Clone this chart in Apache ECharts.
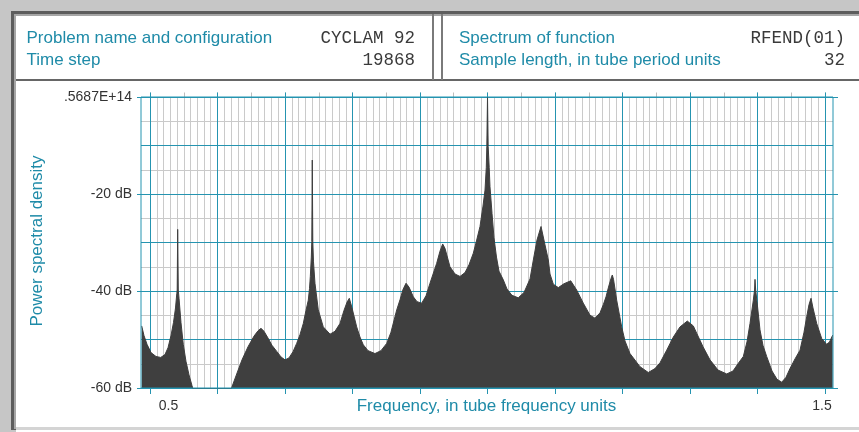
<!DOCTYPE html>
<html><head><meta charset="utf-8">
<script src="https://cdn.jsdelivr.net/npm/echarts@6/dist/echarts.min.js"></script>
<style>
html,body{margin:0;padding:0;background:#fff;}
#wrap{position:relative;width:859px;height:432px;background:#c6c6c6;overflow:hidden;}
.b{position:absolute;}
#chart{position:absolute;left:0;top:0;width:859px;height:432px;}
</style></head><body>
<div id="wrap">
<div class="b" style="left:11px;top:11px;right:0;bottom:2px;background:#5d5d5d"></div>
<div class="b" style="left:14px;top:14px;right:0;bottom:3px;background:#a6a6a6"></div>
<div class="b" style="left:16px;top:16px;right:0;height:411px;background:#fff"></div>
<div class="b" style="left:16px;top:427px;right:0;height:3px;background:#d4d4d4"></div>
<div class="b" style="left:16px;top:430px;right:0;height:2px;background:#fff"></div>
<div class="b" style="left:16px;top:79px;right:0;height:2px;background:#666"></div>
<div class="b" style="left:432px;top:14px;width:2px;height:66px;background:#7a7a7a"></div>
<div class="b" style="left:441px;top:14px;width:2px;height:66px;background:#7a7a7a"></div>
<div id="chart"></div>
</div>
<script>
// ---- Data ----
const headerLeftLabels = ['Problem name and configuration', 'Time step'];
const headerLeftValues = ['CYCLAM 92', '19868'];
const headerRightLabels = ['Spectrum of function', 'Sample length, in tube period units'];
const headerRightValues = ['RFEND(01)', '32'];
const xAxisTitle = 'Frequency, in tube frequency units';
const yAxisTitle = 'Power spectral density';
const xTickValues = [0.5, 1.5];
const xTickLabels = ['0.5', '1.5'];
const yTickValues = [-60, -40, -20, 0];
const yTickLabels = ['-60 dB', '-40 dB', '-20 dB', '.5687E+14'];

const frequency = [
0.4877,0.4911,0.4956,0.5015,0.5089,0.5159,0.5222,0.5267,0.5311,0.5348,
0.5378,0.5397,0.5403,0.5410,0.5419,0.5430,0.5459,0.5493,0.5533,0.5578,
0.5622,0.5652,0.5741,0.5919,0.6096,0.6200,0.6274,0.6363,0.6452,0.6541,
0.6600,0.6644,0.6689,0.6748,0.6807,0.6881,0.6941,0.7000,0.7059,0.7119,
0.7173,0.7222,0.7271,0.7311,0.7345,0.7363,0.7375,0.7390,0.7397,0.7404,
0.7412,0.7422,0.7444,0.7493,0.7567,0.7667,0.7741,0.7815,0.7874,0.7919,
0.7953,0.7993,0.8062,0.8111,0.8160,0.8230,0.8333,0.8422,0.8507,0.8570,
0.8655,0.8704,0.8748,0.8793,0.8837,0.8901,0.8956,0.9025,0.9089,0.9148,
0.9247,0.9296,0.9336,0.9370,0.9444,0.9519,0.9593,0.9667,0.9726,0.9790,
0.9840,0.9889,0.9933,0.9963,0.9982,0.9990,1.0000,1.0010,1.0025,1.0037,
1.0067,1.0096,1.0133,1.0170,1.0234,1.0289,1.0363,1.0456,1.0541,1.0630,
1.0679,1.0733,1.0793,1.0852,1.0901,1.0926,1.0975,1.1049,1.1133,1.1233,
1.1321,1.1419,1.1519,1.1593,1.1667,1.1716,1.1756,1.1793,1.1830,1.1849,
1.1867,1.1914,1.1988,1.2037,1.2111,1.2259,1.2382,1.2481,1.2556,1.2655,
1.2753,1.2852,1.2960,1.3049,1.3099,1.3193,1.3296,1.3415,1.3544,1.3637,
1.3711,1.3790,1.3844,1.3889,1.3938,1.3956,1.3963,1.3973,1.3993,1.4037,
1.4081,1.4136,1.4215,1.4289,1.4359,1.4422,1.4481,1.4556,1.4630,1.4689,
1.4729,1.4763,1.4793,1.4822,1.4877,1.4951,1.5025,1.5067,1.5114
];
const powerDb = [
-47.2,-49.2,-51.0,-52.7,-53.5,-53.7,-53.1,-51.7,-49.2,-46.5,
-43.5,-40.5,-39.8,-27.3,-39.8,-41.5,-46.5,-51.0,-54.5,-57.3,
-59.5,-61.0,-66.0,-68.0,-66.0,-60.3,-57.5,-54.2,-51.5,-49.3,
-48.2,-47.7,-48.3,-49.7,-51.2,-52.5,-53.6,-54.2,-53.8,-52.5,
-50.8,-49.0,-46.7,-44.0,-41.9,-39.5,-37.0,-33.0,-29.8,-13.0,
-29.8,-34.0,-38.4,-43.9,-47.4,-48.9,-48.3,-46.7,-44.0,-42.3,
-41.5,-43.5,-47.4,-49.5,-51.1,-52.3,-52.9,-52.3,-50.8,-48.5,
-43.9,-41.8,-39.7,-38.4,-39.2,-41.2,-42.2,-42.5,-41.0,-38.4,
-34.3,-31.8,-30.3,-31.2,-35.0,-36.5,-37.0,-36.2,-34.6,-32.2,
-29.5,-26.7,-22.5,-19.2,-14.5,-10.2,0.0,-10.2,-14.5,-18.5,
-24.0,-29.0,-33.0,-35.9,-37.7,-39.6,-40.9,-41.4,-40.3,-37.5,
-33.6,-29.5,-26.7,-30.5,-33.6,-36.5,-38.6,-39.3,-38.5,-37.9,
-39.8,-42.5,-45.0,-45.6,-44.5,-42.8,-41.2,-39.2,-37.4,-36.7,
-37.6,-41.9,-47.4,-50.3,-52.9,-55.6,-56.8,-56.0,-54.8,-52.2,
-49.5,-47.4,-46.2,-47.2,-48.7,-51.5,-54.2,-56.3,-57.1,-56.5,
-55.0,-53.5,-50.5,-46.7,-41.9,-39.8,-37.6,-39.8,-42.2,-48.0,
-51.2,-53.5,-56.5,-58.2,-58.8,-57.8,-56.0,-54.0,-52.2,-48.5,
-45.3,-42.8,-41.5,-43.5,-46.7,-49.8,-51.0,-50.5,-49.1
];

// ---- Styles ----
const TEAL = '#2594b0';
const TEAL_TEXT = '#1f8ba8';
const GREY = '#cacaca';
const FILL = '#3f3f3f';
const SANS = '"Liberation Sans", Arial, sans-serif';
const MONO = '"Liberation Mono", "Courier New", monospace';
const X_MIN = 0.5 - 9 / 675;
const X_MAX = 0.5 + 683 / 675;

function txt(x, y, text, opt) {
  return {
    type: 'text', x: x, y: y, rotation: opt.rotation || 0, silent: true,
    style: {
      text: text, font: opt.font, fill: opt.fill,
      textAlign: opt.align, align: opt.align,
      textVerticalAlign: 'middle', verticalAlign: 'middle'
    }
  };
}

const graphics = [];
headerLeftLabels.forEach((t, i) => graphics.push(txt(26.5, 38.5 + i * 21.5, t, {font: '17px ' + SANS, fill: TEAL_TEXT, align: 'left'})));
headerLeftValues.forEach((t, i) => graphics.push(txt(415, 38.5 + i * 21.5, t, {font: '17.5px ' + MONO, fill: '#3a3a3a', align: 'right'})));
headerRightLabels.forEach((t, i) => graphics.push(txt(459, 38.5 + i * 21.5, t, {font: '17px ' + SANS, fill: TEAL_TEXT, align: 'left'})));
headerRightValues.forEach((t, i) => graphics.push(txt(845, 38.5 + i * 21.5, t, {font: '17.5px ' + MONO, fill: '#3a3a3a', align: 'right'})));
graphics.push(txt(486.5, 406, xAxisTitle, {font: '17px ' + SANS, fill: TEAL_TEXT, align: 'center'}));
graphics.push(txt(37.5, 241, yAxisTitle, {font: '17px ' + SANS, fill: TEAL_TEXT, align: 'center', rotation: Math.PI / 2}));

const off = {show: false};
const noLine = {show: false, onZero: false};
const labelFont = {fontSize: 14, color: '#333', fontFamily: SANS};
const tealLine = {color: TEAL, width: 1, opacity: 1, type: 'solid'};

const option = {
  animation: false,
  backgroundColor: 'transparent',
  grid: [
    {left: 141, right: 26, top: 97, bottom: 44, show: true, borderColor: TEAL, borderWidth: 1, backgroundColor: 'transparent', z: 3},
    {left: 150, right: 34, top: 97, bottom: 44}
  ],
  xAxis: [
    {gridIndex: 0, type: 'value', min: X_MIN, max: X_MAX, show: false, axisLine: noLine},
    // grey minor verticals
    {gridIndex: 1, type: 'value', min: 0.5, max: 1.5, interval: 0.1, position: 'bottom', z: 0,
      axisLine: noLine, axisTick: off, axisLabel: off, splitLine: off,
      minorTick: {show: false, splitNumber: 10},
      minorSplitLine: {show: true, lineStyle: {color: GREY, width: 1}}},
    // teal major verticals
    {gridIndex: 1, type: 'value', min: 0.5, max: 1.5, interval: 0.1, position: 'bottom', z: 1,
      axisLine: noLine, axisTick: off, axisLabel: off, minorTick: off, minorSplitLine: off,
      splitLine: {show: true, lineStyle: tealLine}},
    // bottom ticks and labels
    {gridIndex: 1, type: 'value', min: 0.5, max: 1.5, interval: 0.1, position: 'bottom', z: 1,
      axisLine: noLine, splitLine: off, minorTick: off, minorSplitLine: off,
      axisTick: {show: true, inside: false, length: 6, lineStyle: tealLine},
      axisLabel: {show: true, margin: 11, ...labelFont,
        formatter: function (v) {
          const i = xTickValues.findIndex(t => Math.abs(t - v) < 1e-6);
          return i < 0 ? '' : '{t' + i + '|' + xTickLabels[i] + '}';
        },
        rich: {
          t0: {padding: [0, 0, 0, 37], ...labelFont},
          t1: {padding: [0, 6, 0, 0], ...labelFont}
        }}},
    {gridIndex: 1, type: 'value', min: 0.5, max: 1.5, interval: 0.05, position: 'top', z: 0,
      axisLine: noLine, axisLabel: off, splitLine: off,
      axisTick: {show: true, inside: false, length: 4.5, lineStyle: {color: '#bdbdbd', width: 1}}},
    {gridIndex: 1, type: 'value', min: 0.5, max: 1.5, interval: 0.1, position: 'top', z: 1,
      axisLine: noLine, axisLabel: off, splitLine: off,
      axisTick: {show: true, inside: false, length: 4.5, lineStyle: tealLine}}
  ],
  yAxis: [
    {gridIndex: 0, type: 'value', min: -60, max: 0, interval: 10, position: 'left', z: 1,
      axisLine: noLine, axisTick: off, axisLabel: off,
      splitLine: {show: true, lineStyle: tealLine}},
    {gridIndex: 0, type: 'value', min: -60, max: 0, interval: 5, position: 'left', z: 0,
      axisLine: noLine, axisTick: off, axisLabel: off,
      splitLine: {show: true, lineStyle: {color: GREY, width: 1}}},
    {gridIndex: 0, type: 'value', min: -60, max: 0, interval: 20, position: 'left', z: 1,
      axisLine: noLine, splitLine: off,
      axisTick: {show: true, inside: false, length: 4, lineStyle: tealLine},
      axisLabel: {show: true, margin: 9, ...labelFont,
        formatter: function (v) {
          const i = yTickValues.findIndex(t => Math.abs(t - v) < 1e-6);
          return i < 0 ? '' : yTickLabels[i];
        }}},
    {gridIndex: 0, type: 'value', min: -60, max: 0, interval: 20, position: 'right', z: 1,
      axisLine: noLine, splitLine: off, axisLabel: off,
      axisTick: {show: true, inside: false, length: 5, lineStyle: tealLine}},
    {gridIndex: 1, type: 'value', min: -60, max: 0, show: false, axisLine: noLine}
  ],
  series: [{
    type: 'line', xAxisIndex: 0, yAxisIndex: 0, z: 2, silent: true,
    data: frequency.map((f, i) => [f, powerDb[i]]),
    showSymbol: false, symbol: 'none',
    lineStyle: {color: FILL, width: 1},
    areaStyle: {color: FILL, opacity: 1, origin: 'start'}
  }],
  graphic: graphics
};

const chart = echarts.init(document.getElementById('chart'), null, {renderer: 'canvas'});
chart.setOption(option);
</script>
</body></html>
